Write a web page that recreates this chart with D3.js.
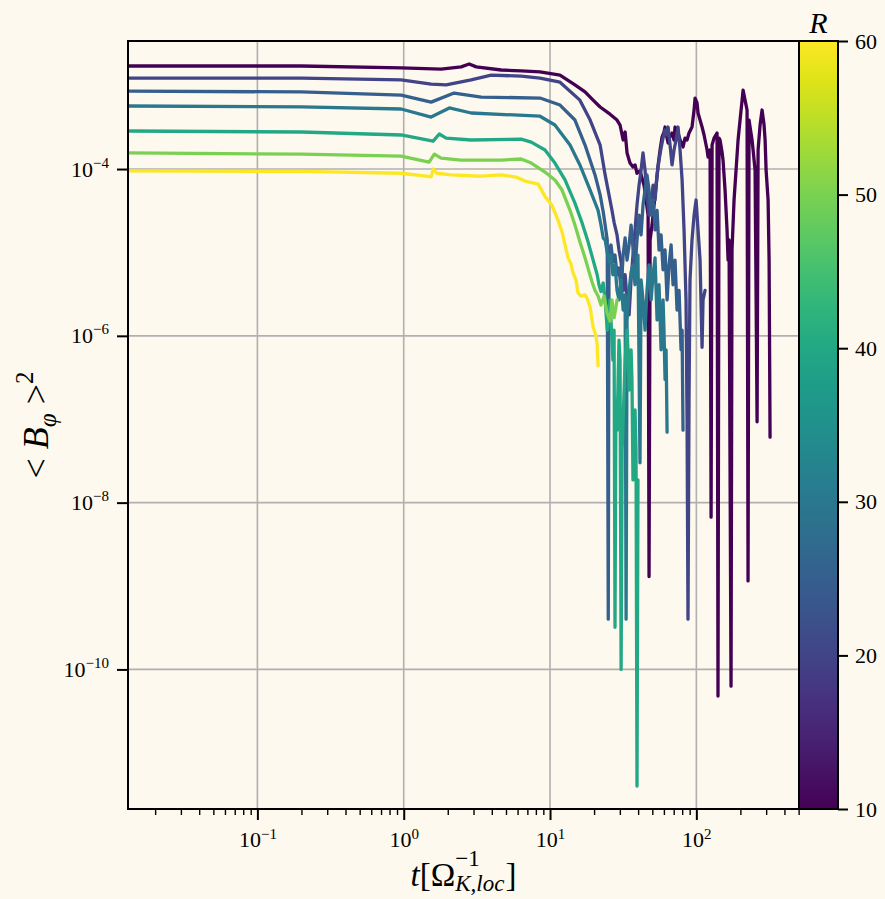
<!DOCTYPE html>
<html>
<head>
<meta charset="utf-8">
<script src="https://cdn.jsdelivr.net/npm/d3@7"></script>
<style>
  body { margin: 0; background: #fdf9ee; }
  text { font-family: "Liberation Serif", "DejaVu Serif", serif; fill: #000; }
</style>
</head>
<body>
<div id="chart"></div>
<script>
// radius of each run (colour key)
const radii = [10, 20, 25, 30, 40, 50, 60];

// [t, <B_phi>^2], one array per radius
const bphiR10 = [
  [0.013,1.72e-3],[0.2,1.72e-3],[0.96,1.63e-3],[1.8,1.58e-3],[2.47,1.68e-3],[2.8,1.82e-3],[3.13,1.68e-3],
  [4.64,1.54e-3],[6.35,1.5e-3],[8.54,1.46e-3],[11.7,1.34e-3],[14.8,1.02e-3],[17.35,8.4e-4],[19.7,6.7e-4],
  [22.0,5.55e-4],[25.7,4.55e-4],[28.7,3.87e-4],[30.1,3.37e-4],[31.6,2.23e-4],[32.6,2.78e-4],[33.6,1.56e-4],
  [35.2,1.18e-4],[36.9,1.06e-4],[38.1,1.12e-4],[39.3,8.9e-5],[41.2,9.5e-5],[42.5,7.8e-5],[43.9,6.4e-5],
  [45.3,4.25e-5],[46.8,2.8e-5],[47.5,1.3e-9],[48.3,1.41e-5],[49.8,2.13e-5],[51.4,3.7e-5],[53.1,6.4e-5],
  [54.8,1.12e-4],[56.5,1.69e-4],[58.3,2.42e-4],[60.1,2.78e-4],[61.1,3.19e-4],[63.1,2.35e-4],[64.1,2.05e-4],
  [66.1,2.49e-4],[68.2,2.7e-4],[70.4,2.23e-4],[71.5,3.19e-4],[73.8,2.94e-4],[75.0,2.7e-4],[77.4,2.23e-4],
  [81.1,1.84e-4],[83.7,2.35e-4],[86.4,2.23e-4],[89.1,2.7e-4],[93.4,3.19e-4],[96.5,5.1e-4],[98.0,7.1e-4],
  [101.1,6.2e-4],[102.7,4.7e-4],[106,3.87e-4],[109.4,3.19e-4],[112.9,2.56e-4],[114.7,2.23e-4],[118.4,1.69e-4],
  [120.2,1.39e-4],[124.1,1.69e-4],[126.1,6.7e-9],[128.1,1.94e-4],[132.1,2.35e-4],[138.5,2.7e-4],[140.6,4.8e-11],
  [142.9,2.35e-4],[145.2,2.23e-4],[149.8,1.6e-4],[152.2,1.28e-4],[157.1,5.6e-5],[162.1,1.86e-5],[164.7,8.1e-6],
  [167.3,1.41e-5],[172.6,6.3e-11],[175.3,1.07e-5],[181.0,4.25e-5],[186.8,9.7e-5],[192.8,2.23e-4],[199,3.87e-4],
  [205.4,6.7e-4],[208.7,8.85e-4],[215.2,6.7e-4],[222.1,5.1e-4],[225.6,1.15e-9],[229.2,3.87e-4],[232.9,3.19e-4],
  [240.3,2.23e-4],[244.2,1.69e-4],[252,9.7e-5],[260.1,9.3e-8],[264.2,1.69e-4],[272.6,3.37e-4],[281.3,5.1e-4],
  [290.3,3.37e-4],[295,2.23e-4],[299.7,9.7e-5],[309.3,4.25e-5],[314.2,8.1e-6],[319,6.1e-8]
];
const bphiR20 = [
  [0.013,1.23e-3],[0.2,1.23e-3],[0.96,1.17e-3],[1.54,1.045e-3],[1.95,1.02e-3],[2.89,1.17e-3],[3.96,1.34e-3],
  [6.35,1.3e-3],[8.54,1.23e-3],[11.7,1.1e-3],[16.0,6.7e-4],[18.8,3.87e-4],[22.0,1.94e-4],[23.8,8.5e-5],
  [26.5,3.2e-5],[27.4,2.3e-5],[28.7,1.62e-5],[29.6,1.07e-5],[30.6,7.7e-6],[31.6,3.5e-6],[32.6,5.4e-6],
  [33.6,2.7e-6],[34.7,1.78e-6],[35.8,4.7e-6],[36.9,9.3e-6],[38.1,1.86e-5],[39.3,3.7e-5],[40.6,6.4e-5],
  [41.9,9.7e-5],[43.2,1.56e-4],[44.6,9.7e-5],[46.0,4.9e-5],[47.5,2.8e-5],[49.1,3.7e-5],[50.6,6.4e-5],
  [52.2,4.25e-5],[53.9,8.5e-5],[55.6,1.28e-4],[57.4,1.79e-4],[59.2,2.35e-4],[61.1,2.94e-4],[63.1,2.56e-4],
  [64.1,3.19e-4],[66.1,1.94e-4],[68.2,1.12e-4],[70.4,1.69e-4],[72.6,2.23e-4],[75.0,3.19e-4],[77.4,1.69e-4],
  [79.9,7.4e-5],[82.4,1.86e-5],[85.0,2.7e-6],[86.4,9.8e-8],[87.7,4.0e-10],[89.1,1.7e-7],[90.5,4.7e-6],
  [93.4,1.41e-5],[96.5,2.8e-5],[99.6,4.25e-5],[102.7,1.86e-5],[106,8.1e-6],[109.4,7.3e-7],[111.1,2.7e-6],
  [114.7,3.5e-6]
];
const bphiR25 = [
  [0.013,8.6e-4],[0.2,8.4e-4],[0.96,7.7e-4],[1.54,6.35e-4],[2.21,8.15e-4],[3.39,7.3e-4],[8.54,7.1e-4],
  [11.7,5.85e-4],[14.8,3.87e-4],[17.35,1.94e-4],[20.3,8.5e-5],[22.0,4.9e-5],[23.1,3.05e-5],[23.8,2.13e-5],
  [24.6,1.41e-5],[25.0,4.0e-10],[25.3,1.07e-5],[26.1,1.23e-5],[26.9,7.7e-6],[27.8,9.3e-6],[28.7,5.4e-6],
  [29.6,6.5e-6],[30.6,3.5e-6],[31.6,9.3e-6],[32.6,1.49e-5],[33.6,8.1e-6],[34.7,1.23e-5],[35.8,2.13e-5],
  [36.9,1.13e-5],[38.1,6.2e-6],[39.3,1.41e-5],[40.6,2.8e-5],[41.9,1.62e-5],[43.2,3.7e-5],[44.6,5.6e-5],
  [46.0,8.5e-5],[47.5,5.6e-5],[49.1,2.8e-5],[50.6,4.25e-5],[52.2,1.86e-5],[53.9,3.2e-5],[55.6,1.07e-5],
  [57.4,1.62e-5],[59.2,6.2e-6],[61.1,1.07e-5],[63.1,2.7e-6],[65.1,7.1e-6],[67.2,1.23e-5],[69.3,4.1e-6],
  [71.5,8.1e-6],[73.8,2.04e-6],[76.2,3.5e-6],[78.6,6.8e-7],[79.9,1.17e-6],[81.1,7.4e-8]
];
const bphiR30 = [
  [0.013,5.7e-4],[0.2,5.55e-4],[0.96,5.25e-4],[1.54,4.2e-4],[2.05,5.4e-4],[2.89,4.7e-4],[8.54,4.3e-4],
  [10.8,3.37e-4],[13.7,1.94e-4],[16.0,1.12e-4],[18.8,5.6e-5],[21.3,3.2e-5],[22.3,2.13e-5],[23.1,1.49e-5],
  [23.8,1.41e-5],[24.6,1.0e-5],[25.3,7.7e-6],[26.1,9.3e-6],[26.9,5.4e-6],[27.8,7.1e-6],[28.7,3.5e-6],
  [29.6,2.7e-6],[30.6,4.7e-6],[31.6,2.04e-6],[32.6,3.1e-6],[33.1,4.0e-10],[33.6,1.55e-6],[34.7,3.5e-6],
  [35.8,5.8e-6],[36.9,7.1e-6],[38.1,4.1e-6],[39.3,7.7e-6],[39.9,9.3e-6],[41.2,3.0e-8],[41.9,4.7e-6],
  [43.2,2.7e-6],[44.6,1.17e-6],[46.0,3.5e-6],[47.5,7.1e-6],[49.1,2.7e-6],[50.6,5.4e-6],[52.2,8.6e-6],
  [53.9,1.55e-6],[55.6,4.1e-6],[57.4,6.8e-7],[59.2,2.7e-6],[60.1,1.17e-6],[61.1,3.0e-7],[62.1,6.8e-7],
  [63.1,7.0e-8]
];
const bphiR40 = [
  [0.013,2.86e-4],[0.2,2.78e-4],[0.96,2.56e-4],[1.59,2.16e-4],[1.75,2.63e-4],[1.95,2.35e-4],[2.89,2.23e-4],
  [6.35,2.28e-4],[7.44,2.1e-4],[9.24,1.69e-4],[10.8,1.18e-4],[12.66,7.4e-5],[14.8,3.9e-5],[16.5,2.3e-5],
  [18.2,1.34e-5],[19.7,8.1e-6],[21.0,5.4e-6],[21.6,4.1e-6],[22.3,3.4e-6],[23.1,4.3e-6],[23.8,2.7e-6],
  [24.6,1.17e-6],[25.3,2.04e-6],[25.7,2.7e-6],[26.5,8.9e-7],[26.9,5.1e-7],[27.4,1.17e-6],[27.8,3.2e-10],
  [28.2,1.7e-7],[28.7,7.4e-8],[29.2,3.0e-7],[29.6,8.9e-7],[30.1,5.1e-7],[30.6,1.0e-10],[31.1,4.25e-8],
  [31.6,9.8e-8],[32.6,5.1e-7],[33.6,1.17e-6],[34.1,6.8e-7],[34.7,2.24e-7],[35.8,6.8e-7],[36.3,3.0e-7],
  [36.9,1.87e-8],[37.5,7.4e-8],[38.1,1.29e-7],[38.7,4.25e-8],[39.3,4.0e-12],[39.9,1.87e-8]
];
const bphiR50 = [
  [0.013,1.56e-4],[0.2,1.51e-4],[0.96,1.43e-4],[1.49,1.21e-4],[1.62,1.51e-4],[1.8,1.35e-4],[2.47,1.28e-4],
  [4.64,1.28e-4],[6.35,1.32e-4],[7.44,1.18e-4],[9.24,9.2e-5],[10.8,7.4e-5],[12.08,5.6e-5],[13.7,3.2e-5],
  [14.8,2.13e-5],[16.0,1.34e-5],[17.35,8.6e-6],[18.5,5.8e-6],[19.4,4.4e-6],[20.3,3.5e-6],[21.3,3.0e-6],
  [22.3,2.34e-6],[23.4,3.0e-6],[24.5,1.9e-6],[25.7,1.5e-6],[26.5,2.7e-6],[27.4,1.65e-6],[28.3,2.3e-6],
  [28.7,2.7e-6]
];
const bphiR60 = [
  [0.013,9.5e-5],[0.2,9.35e-5],[0.96,8.9e-5],[1.43,8.2e-5],[1.54,8.05e-5],[1.59,1.0e-4],[1.69,8.9e-5],
  [2.11,8.5e-5],[3.39,8.2e-5],[4.64,8.5e-5],[5.87,8.0e-5],[6.87,7.1e-5],[8.3,6.6e-5],[9.3,4.6e-5],
  [10.3,3.7e-5],[11.34,2.44e-5],[12.08,1.76e-5],[12.66,1.23e-5],[13.28,8.6e-6],[13.9,7.3e-6],[14.37,5.7e-6],
  [15.04,4.7e-6],[15.5,3.3e-6],[16.25,3.0e-6],[17.35,3.1e-6],[17.9,2.83e-6],[18.8,2.2e-6],[19.7,1.28e-6],
  [20.6,1.0e-6],[21.0,7.7e-7],[21.3,4.4e-7]
];
const series = [bphiR10, bphiR20, bphiR25, bphiR30, bphiR40, bphiR50, bphiR60];

// axis limits and ticks
const tLimits = [0.01305, 503];
const bLimits = [3.43e-3, 2.12e-12];
const xMajorTicks = [0.1, 1, 10, 100];
const xTickExps = ["\u22121", "0", "1", "2"];
const xMinorTicks = [0.02,0.03,0.04,0.05,0.06,0.07,0.08,0.09,0.2,0.3,0.4,0.5,0.6,0.7,0.8,0.9,
  2,3,4,5,6,7,8,9,20,30,40,50,60,70,80,90,200,300,400,500];
const yMajorTicks = [1e-4, 1e-6, 1e-8, 1e-10];
const yTickExps = ["\u22124", "\u22126", "\u22128", "\u221210"];
const rLimits = [10, 60];
const cbarTicks = [10, 20, 30, 40, 50, 60];

let Chart = (() => {

  let self = {};

  self.width = 885;
  self.height = 899;
  self.plot = {left: 128, right: 799, top: 41, bottom: 809};
  self.cbar = {left: 799, right: 838};

  // put "10" with a raised exponent into an axis tick label
  const powerLabel = (sel, exps, raise) => {
    sel.selectAll(".tick text").each(function(d, i) {
      const t = d3.select(this).text(null);
      t.append("tspan").text("10");
      t.append("tspan").attr("dy", -raise).attr("font-size", 15).text(exps[i]);
    });
  };

  self.draw = (divName) => {
    const p = self.plot;
    const svg = d3.select(divName).append("svg")
      .attr("width", self.width)
      .attr("height", self.height)
      .style("background", "#fdf9ee");

    const x = d3.scaleLog().domain(tLimits).range([p.left, p.right]);
    const y = d3.scaleLog().domain(bLimits).range([p.top, p.bottom]);
    const color = d3.scaleSequential(d3.interpolateViridis).domain(rLimits);

    // grid
    const grid = svg.append("g").attr("stroke", "#b0b0b0").attr("stroke-width", 1.6);
    grid.selectAll(".gx").data(xMajorTicks).enter().append("line")
      .attr("x1", d => x(d)).attr("x2", d => x(d))
      .attr("y1", p.top).attr("y2", p.bottom);
    grid.selectAll(".gy").data(yMajorTicks).enter().append("line")
      .attr("y1", d => y(d)).attr("y2", d => y(d))
      .attr("x1", p.left).attr("x2", p.right);

    // curves
    svg.append("clipPath").attr("id", "clip").append("rect")
      .attr("x", p.left).attr("y", p.top)
      .attr("width", p.right - p.left).attr("height", p.bottom - p.top);

    const line = d3.line().x(d => x(d[0])).y(d => y(d[1]));
    svg.append("g").attr("clip-path", "url(#clip)")
      .selectAll("path").data(series).enter().append("path")
      .attr("d", line)
      .attr("fill", "none")
      .attr("stroke", (d, i) => color(radii[i]))
      .attr("stroke-width", 3.3)
      .attr("stroke-linejoin", "round")
      .attr("stroke-linecap", "round");

    // x axis
    const xAxis = svg.append("g")
      .attr("transform", `translate(0,${p.bottom})`)
      .call(d3.axisBottom(x).tickValues(xMajorTicks).tickSize(11).tickSizeOuter(0).tickPadding(11));
    powerLabel(xAxis, xTickExps, 8);
    svg.append("g")
      .attr("transform", `translate(0,${p.bottom})`)
      .call(d3.axisBottom(x).tickValues(xMinorTicks).tickSize(6).tickSizeOuter(0).tickFormat(""))
      .selectAll("line").attr("stroke-width", 1.4);

    // y axis
    const yAxis = svg.append("g")
      .attr("transform", `translate(${p.left},0)`)
      .call(d3.axisLeft(y).tickValues(yMajorTicks).tickSize(11).tickSizeOuter(0).tickPadding(8));
    powerLabel(yAxis, yTickExps, 9);

    [xAxis, yAxis].forEach(a => {
      a.select(".domain").remove();
      a.selectAll(".tick line").attr("stroke-width", 2);
      a.selectAll("text").attr("font-size", 22).attr("font-family", "Liberation Serif, serif");
    });

    // frame
    svg.append("rect")
      .attr("x", p.left).attr("y", p.top)
      .attr("width", p.right - p.left).attr("height", p.bottom - p.top)
      .attr("fill", "none").attr("stroke", "#000").attr("stroke-width", 2);

    // colour bar
    const c = self.cbar;
    const cy = d3.scaleLinear().domain(rLimits).range([p.bottom, p.top]);
    const grad = svg.append("defs").append("linearGradient")
      .attr("id", "viridis").attr("x1", 0).attr("y1", 1).attr("x2", 0).attr("y2", 0);
    grad.selectAll("stop").data(d3.range(0, 1.001, 0.05)).enter().append("stop")
      .attr("offset", d => d)
      .attr("stop-color", d => d3.interpolateViridis(d));
    svg.append("rect")
      .attr("x", c.left).attr("y", p.top)
      .attr("width", c.right - c.left).attr("height", p.bottom - p.top)
      .attr("fill", "url(#viridis)").attr("stroke", "#000").attr("stroke-width", 2);

    const cAxis = svg.append("g")
      .attr("transform", `translate(${c.right},0)`)
      .call(d3.axisRight(cy).tickValues(cbarTicks).tickSize(10).tickSizeOuter(0).tickPadding(7));
    cAxis.select(".domain").remove();
    cAxis.selectAll(".tick line").attr("stroke-width", 2);
    cAxis.selectAll("text").attr("font-size", 22).attr("font-family", "Liberation Serif, serif");

    svg.append("text")
      .attr("x", (c.left + c.right) / 2).attr("y", 33)
      .attr("text-anchor", "middle")
      .attr("font-size", 30).attr("font-style", "italic")
      .text("R");

    // x label: t[Ω^{-1}_{K,loc}]
    const xl = svg.append("g");
    const base = 886;
    const main = xl.append("text").attr("y", base).attr("font-size", 33);
    main.append("tspan").attr("font-style", "italic").text("t");
    main.append("tspan").text("[\u03a9");
    const wMain = main.node().getComputedTextLength();
    const sup = xl.append("text").attr("x", wMain).attr("y", base - 20).attr("font-size", 23).text("\u22121");
    const sub = xl.append("text").attr("x", wMain).attr("y", base + 5).attr("font-size", 23)
      .attr("font-style", "italic").text("K,loc");
    const wScript = Math.max(sup.node().getComputedTextLength(), sub.node().getComputedTextLength());
    const close = xl.append("text").attr("x", wMain + wScript + 1).attr("y", base).attr("font-size", 33).text("]");
    const wAll = wMain + wScript + 1 + close.node().getComputedTextLength();
    xl.attr("transform", `translate(${(p.left + p.right) / 2 - wAll / 2},0)`);

    // y label: < B_phi >^2
    const yl = svg.append("text")
      .attr("transform", `translate(48,${(p.top + p.bottom) / 2}) rotate(-90)`)
      .attr("text-anchor", "middle")
      .attr("font-size", 36);
    yl.append("tspan").text("< ");
    yl.append("tspan").attr("font-style", "italic").text("B");
    yl.append("tspan").attr("font-style", "italic").attr("font-size", 25).attr("dy", 8).text("\u03c6");
    yl.append("tspan").attr("dy", -8).text(" >");
    yl.append("tspan").attr("font-size", 25).attr("dy", -15).text("2");
  };

  return self;
})();

Chart.draw("#chart");
</script>
</body>
</html>
